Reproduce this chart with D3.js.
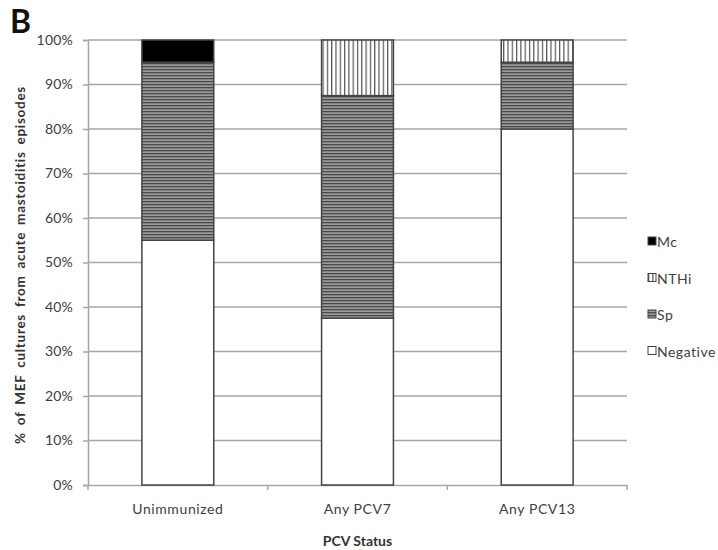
<!DOCTYPE html>
<html><head><meta charset="utf-8">
<script src="https://cdn.jsdelivr.net/npm/d3@7"></script>
<style>body{margin:0;background:#fff;} text{font-family:Lato,"Open Sans",sans-serif;}</style>
</head><body>
<svg id="c" width="718" height="550"></svg>
<script>
const categories = ["Unimmunized", "Any PCV7", "Any PCV13"];
const seriesNames = ["Negative", "Sp", "NTHi", "Mc"];
const negative = [55, 37.5, 80];
const sp = [40, 50, 15];
const nthi = [0, 12.5, 5];
const mc = [5, 0, 0];
const yTicks = [0,10,20,30,40,50,60,70,80,90,100];
const legendOrder = ["Mc", "NTHi", "Sp", "Negative"];

const svg = d3.select("#c");
const m = {l:88, r:91, t:40, b:65};
const W = 718, H = 550;
const x = d3.scaleBand().domain(categories).range([m.l, W - m.r]).paddingInner(0.6).paddingOuter(0.3);
const xb = d3.scaleBand().domain(categories).range([m.l, W - m.r]);
const y = d3.scaleLinear().domain([0,100]).range([H - m.b, m.t]);

const defs = svg.append("defs");
const ph = defs.append("pattern").attr("id","hz").attr("patternUnits","userSpaceOnUse").attr("width",6).attr("height",3);
ph.append("rect").attr("width",6).attr("height",3).attr("fill","#9a9a9a");
ph.append("rect").attr("y",0).attr("width",6).attr("height",1.3).attr("fill","#4a4a4a");
const pv = defs.append("pattern").attr("id","vt").attr("patternUnits","userSpaceOnUse").attr("width",4.3).attr("height",6);
pv.append("rect").attr("width",4.3).attr("height",6).attr("fill","#fff");
pv.append("rect").attr("x",0).attr("width",1.2).attr("height",6).attr("fill","#555");
const fills = {Negative:"#fff", Sp:"url(#hz)", NTHi:"url(#vt)", Mc:"#000"};

// gridlines
svg.append("g").selectAll("line").data(yTicks.filter(d=>d>0)).join("line")
  .attr("x1", m.l).attr("x2", W - m.r).attr("y1", d=>y(d)).attr("y2", d=>y(d))
  .attr("stroke","#a6a6a6").attr("stroke-width",1.5);

// y axis
const ya = svg.append("g").attr("transform",`translate(${m.l},0)`)
  .call(d3.axisLeft(y).tickValues(yTicks).tickFormat(d=>d+"%").tickSize(5).tickPadding(10));
ya.select(".domain").attr("stroke","#a6a6a6").attr("stroke-width",1.5);
ya.selectAll(".tick line").attr("stroke","#a6a6a6").attr("stroke-width",1.5);
ya.selectAll("text").attr("font-size",14).attr("fill","#404040").style("font-family","Lato,sans-serif").style("letter-spacing","0.2px");

// x axis
const xa = svg.append("g").attr("transform",`translate(0,${y(0)})`)
  .call(d3.axisBottom(xb).tickSize(0).tickPadding(19));
xa.select(".domain").attr("stroke","#a6a6a6").attr("stroke-width",1.5);
xa.selectAll("text").attr("font-size",14).attr("fill","#404040").style("font-family","Lato,sans-serif").style("letter-spacing","0.6px");
svg.append("g").selectAll("line").data([0,1,2,3]).join("line")
  .attr("x1", i => m.l + i*xb.bandwidth()).attr("x2", i => m.l + i*xb.bandwidth())
  .attr("y1", y(0)).attr("y2", y(0)+5).attr("stroke","#a6a6a6").attr("stroke-width",1.5);

// stacked bars
const rows = categories.map((c,i)=>({cat:c, Negative:negative[i], Sp:sp[i], NTHi:nthi[i], Mc:mc[i]}));
const stack = d3.stack().keys(seriesNames)(rows);
svg.append("g").selectAll("g").data(stack).join("g")
  .attr("fill", d=>fills[d.key])
  .selectAll("rect").data(d=>d.filter(p=>p[1]-p[0]>0)).join("rect")
  .attr("x", d=>x(d.data.cat)).attr("width", x.bandwidth())
  .attr("y", d=>y(d[1])).attr("height", d=>y(d[0])-y(d[1]))
  .attr("stroke","#444").attr("stroke-width",1.5);

// titles
svg.append("text").attr("x",10).attr("y",33).text("B").attr("font-size",32).attr("font-weight","bold").attr("fill","#111");
svg.append("text").attr("transform",`translate(25,${265}) rotate(-90)`)
  .attr("text-anchor","middle").attr("font-size",13.5).attr("font-weight","bold").attr("fill","#333")
  .style("letter-spacing","0.7px").style("word-spacing","3px")
  .text("% of MEF cultures from acute mastoiditis episodes");
svg.append("text").attr("x",(m.l+W-m.r)/2).attr("y",546).attr("text-anchor","middle")
  .attr("font-size",14).attr("font-weight","bold").attr("fill","#333").text("PCV Status");

// legend
const lg = svg.append("g").selectAll("g").data(legendOrder).join("g")
  .attr("transform",(d,i)=>`translate(648,${242 + i*36.5})`);
lg.append("rect").attr("x",0).attr("y",-5).attr("width",8).attr("height",8)
  .attr("fill", d=>fills[d]).attr("stroke","#444").attr("stroke-width",1);
lg.append("text").attr("x",9).attr("y",5).attr("font-size",14).attr("fill","#404040").style("letter-spacing","0.5px").text(d=>d);
</script>
</body></html>
